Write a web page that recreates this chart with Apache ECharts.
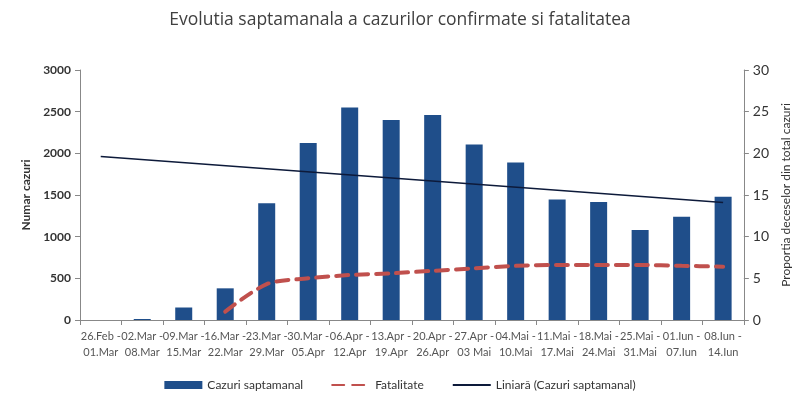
<!DOCTYPE html>
<html><head><meta charset="utf-8">
<script src="https://cdn.jsdelivr.net/npm/echarts@6/dist/echarts.min.js"></script>
<style>html,body{margin:0;padding:0;background:#fff}#c{width:800px;height:395px}</style>
</head><body><div id="c"></div>
<script>
const categories = ["26.Feb -\n01.Mar","02.Mar -\n08.Mar","09.Mar -\n15.Mar","16.Mar -\n22.Mar","23.Mar -\n29.Mar","30.Mar -\n05.Apr","06.Apr -\n12.Apr","13.Apr -\n19.Apr","20.Apr -\n26.Apr","27.Apr -\n03 Mai","04.Mai -\n10.Mai","11.Mai -\n17.Mai","18.Mai -\n24.Mai","25.Mai -\n31.Mai","01.Iun -\n07.Iun","08.Iun -\n14.Iun"];
const cazuri = [0, 12, 150, 380, 1400, 2125, 2550, 2400, 2460, 2105, 1890, 1445, 1415, 1080, 1240, 1480];
const fatalitate = [null, null, null, 1.0, 4.3, 5.0, 5.4, 5.6, 5.9, 6.2, 6.5, 6.6, 6.6, 6.6, 6.5, 6.4];
const liniara = [1962, null, null, null, null, null, null, null, null, null, null, null, null, null, null, 1410];
const leftTicks = [0, 3000, 500];
const rightTicks = [0, 30, 5];

const font = "Lato, 'Open Sans', sans-serif";
const chart = echarts.init(document.getElementById('c'));
chart.setOption({
  animation: false,
  textStyle: {fontFamily: font},
  title: {text: "Evolutia saptamanala a cazurilor confirmate si fatalitatea", left: 'center', top: 6,
    textStyle: {fontSize: 17.5, fontWeight: 'normal', color: '#404040', fontFamily: "'Open Sans', sans-serif"}},
  grid: {left: 80, right: 55, top: 70, bottom: 75},
  legend: {left: 'center', top: 374, itemGap: 28, textStyle: {fontSize: 12, color: '#333', fontFamily: font},
    data: [
      {name: 'Cazuri saptamanal', icon: 'rect', itemStyle: {color: '#1F4E8A'}},
      {name: 'Fatalitate', itemStyle: {opacity: 0}},
      {name: 'Liniară (Cazuri saptamanal)', itemStyle: {opacity: 0}}
    ], itemWidth: 38, itemHeight: 8},
  xAxis: {type: 'category', data: categories, boundaryGap: true,
    axisLine: {lineStyle: {color: '#888'}},
    axisTick: {show: true, alignWithLabel: false, length: 5, lineStyle: {color: '#888'}},
    axisLabel: {interval: 0, fontSize: 11, color: '#555', lineHeight: 16, margin: 8, fontFamily: font}},
  yAxis: [
    {type: 'value', min: leftTicks[0], max: leftTicks[1], interval: leftTicks[2],
      name: 'Numar cazuri', nameLocation: 'middle', nameRotate: 90, nameGap: 41,
      nameTextStyle: {fontSize: 12, fontWeight: 'bold', color: '#333', fontFamily: font},
      axisLine: {show: true, lineStyle: {color: '#888'}},
      axisTick: {show: true, length: 5, lineStyle: {color: '#888'}},
      splitLine: {show: false},
      axisLabel: {fontSize: 12, fontWeight: 'bold', color: '#333', margin: 9, fontFamily: font,
        formatter: function (v) { return String(v); }}},
    {type: 'value', min: rightTicks[0], max: rightTicks[1], interval: rightTicks[2], position: 'right',
      name: 'Proportia deceselor din total cazuri', nameLocation: 'middle', nameRotate: 90, nameGap: 34,
      nameTextStyle: {fontSize: 12, color: '#333', fontFamily: font},
      axisLine: {show: true, lineStyle: {color: '#888'}},
      axisTick: {show: true, length: 5, lineStyle: {color: '#888'}},
      splitLine: {show: false},
      axisLabel: {fontSize: 14, color: '#333', margin: 9, fontFamily: font}}
  ],
  series: [
    {name: 'Cazuri saptamanal', type: 'bar', data: cazuri, barWidth: 17, itemStyle: {color: '#1F4E8A'}},
    {name: 'Fatalitate', type: 'line', yAxisIndex: 1, data: fatalitate, smooth: 0.3, symbol: 'none',
      lineStyle: {color: '#C0504D', width: 4, type: [12, 8], cap: 'round'}, itemStyle: {color: '#C0504D'}},
    {name: 'Liniară (Cazuri saptamanal)', type: 'line', data: liniara, connectNulls: true, symbol: 'none',
      lineStyle: {color: '#0D1A3A', width: 1.6}, itemStyle: {color: '#0D1A3A'}}
  ]
});
</script></body></html>
